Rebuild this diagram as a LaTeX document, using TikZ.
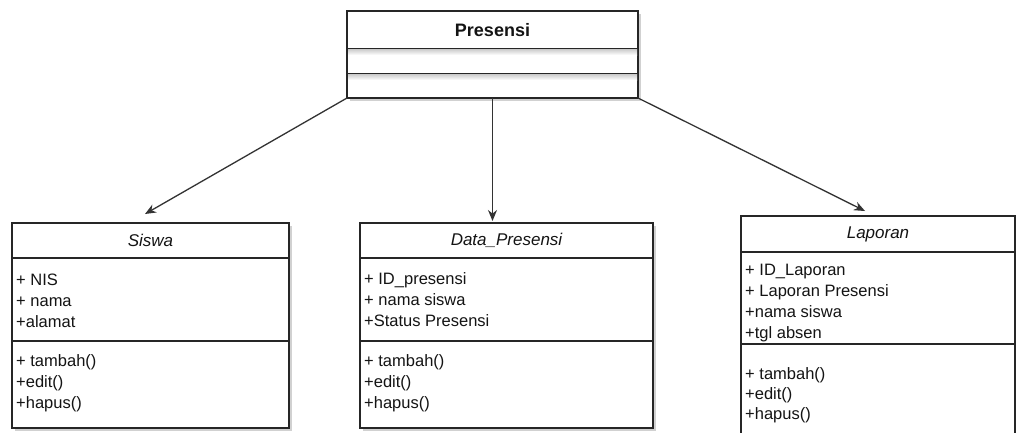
\documentclass[tikz,border=0pt]{standalone}
\usepackage{fontspec}
\setmainfont{Liberation Sans}
\usetikzlibrary{arrows.meta}
\begin{document}
\begin{tikzpicture}[x=1pt,y=-1pt,
  comp/.style={draw=black!85, line width=1.3pt, fill=white, inner sep=0pt, outer sep=0pt, anchor=north west},
  shadow/.style={fill=black!18, draw=none},
  txt/.style={inner sep=0pt, align=left, anchor=west, font=\fontsize{16.5}{21}\selectfont, text=black!92},
  ttl/.style={inner sep=0pt, font=\fontsize{17}{20}\selectfont\itshape, text=black!92},
  bttl/.style={inner sep=0pt, font=\fontsize{18}{20}\selectfont\bfseries, text=black!92},
  conn/.style={draw=black!80, line width=1.3pt, -{Stealth[length=11pt,width=9pt]}}]
\clip (0,0) rectangle (1016,432);
\fill[white] (0,0) rectangle (1016,432);

% shadows
\fill[shadow] (350,14) rectangle (641,101);
\fill[shadow] (15,226) rectangle (292,431);
\fill[shadow] (363,226) rectangle (656,431);
\fill[shadow] (744,219) rectangle (1020,440);

% Presensi
\node[comp, minimum width=291pt, minimum height=38pt] (pT) at (347,11) {};
\node[comp, minimum width=291pt, minimum height=25pt] (pA) at (347,49) {};
\node[comp, minimum width=291pt, minimum height=24pt] (pM) at (347,74) {};
\shade[top color=black!18, bottom color=white] (348,49.8) rectangle (637,55);
\shade[top color=black!18, bottom color=white] (348,74.8) rectangle (637,80);
\node[bttl] (pTt) at (pT.center) {Presensi};

% Siswa
\node[comp, minimum width=277pt, minimum height=35pt] (sT) at (12,223) {};
\node[comp, minimum width=277pt, minimum height=83pt] (sA) at (12,258) {};
\node[comp, minimum width=277pt, minimum height=87pt] (sM) at (12,341) {};
\node[ttl] (sTt) at (sT.center) {Siswa};
\node[txt] (sAt) at (16,301) {+ NIS\\+ nama\\+alamat};
\node[txt] (sMt) at (16,383) {+ tambah()\\+edit()\\+hapus()};

% Data_Presensi
\node[comp, minimum width=293pt, minimum height=35pt] (dT) at (360,223) {};
\node[comp, minimum width=293pt, minimum height=83pt] (dA) at (360,258) {};
\node[comp, minimum width=293pt, minimum height=87pt] (dM) at (360,341) {};
\node[ttl] (dTt) at (dT.center) {Data\_Presensi};
\node[txt] (dAt) at (364,300) {+ ID\_presensi\\+ nama siswa\\+Status Presensi};
\node[txt] (dMt) at (364,383) {+ tambah()\\+edit()\\+hapus()};

% Laporan
\node[comp, minimum width=274pt, minimum height=36pt] (lT) at (741,216) {};
\node[comp, minimum width=274pt, minimum height=92pt] (lA) at (741,252) {};
\node[comp, minimum width=274pt, minimum height=100pt] (lM) at (741,344) {};
\node[ttl] (lTt) at (lT.center) {Laporan};
\node[txt] (lAt) at (745,303.5) {+ ID\_Laporan\\+ Laporan Presensi\\+nama siswa\\+tgl absen};
\node[txt, font=\fontsize{16.5}{20}\selectfont] (lMt) at (745,395) {+ tambah()\\+edit()\\+hapus()};

% connectors
\coordinate (tipS) at (145,214);
\coordinate (tipD) at (492.5,221);
\coordinate (tipL) at (865,211);
\draw[conn] (pM.south west) -- (tipS);
\draw[conn] (pM.south) -- (tipD);
\draw[conn] (pM.south east) -- (tipL);
\end{tikzpicture}
\end{document}
